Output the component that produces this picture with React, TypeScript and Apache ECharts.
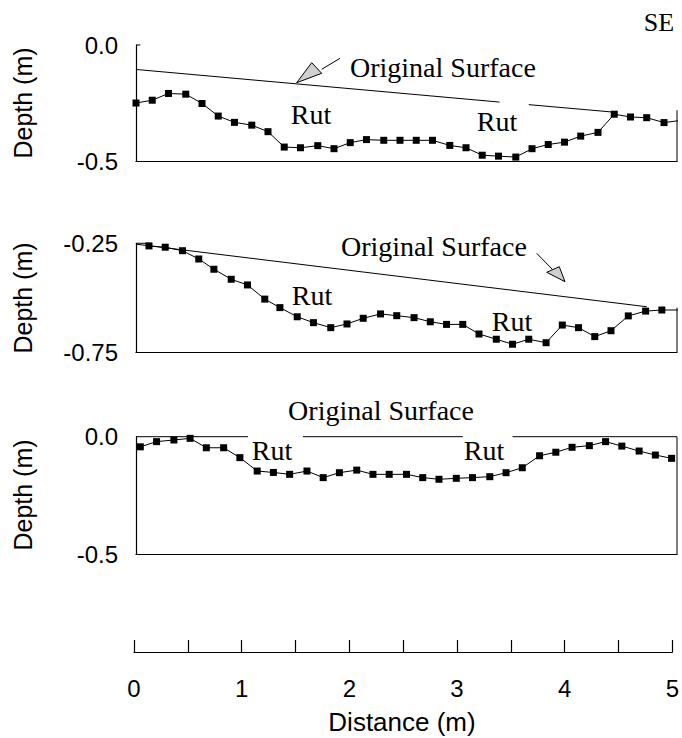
import React, { useEffect, useRef } from 'react';
import * as echarts from 'echarts';

// ---- Panel 1 (top) ----
const topDistance = [0, 0.15, 0.30, 0.46, 0.61, 0.76, 0.91, 1.07, 1.22, 1.37, 1.52, 1.68, 1.83, 1.98, 2.13, 2.29, 2.44, 2.59, 2.74, 2.90, 3.05, 3.20, 3.35, 3.51, 3.66, 3.81, 3.96, 4.11, 4.27, 4.42, 4.57, 4.72, 4.88, 5.03];
const topDepth = [-0.249, -0.237, -0.208, -0.211, -0.251, -0.305, -0.332, -0.344, -0.372, -0.438, -0.441, -0.432, -0.445, -0.419, -0.406, -0.409, -0.409, -0.409, -0.409, -0.431, -0.441, -0.473, -0.477, -0.481, -0.445, -0.427, -0.417, -0.391, -0.375, -0.297, -0.309, -0.312, -0.333, -0.324];
const topSurfaceA = [[0, -0.105], [3.36, -0.245]];
const topSurfaceB = [[3.63, -0.256], [4.41, -0.288]];

// ---- Panel 2 (middle) ----
const midDistance = [0.12, 0.27, 0.43, 0.58, 0.72, 0.88, 1.03, 1.19, 1.33, 1.49, 1.64, 1.80, 1.95, 2.10, 2.26, 2.41, 2.57, 2.72, 2.87, 3.02, 3.17, 3.33, 3.48, 3.63, 3.79, 3.94, 4.09, 4.24, 4.39, 4.55, 4.71, 4.86, 5.03];
const midDepth = [-0.262, -0.268, -0.284, -0.322, -0.369, -0.415, -0.441, -0.506, -0.545, -0.587, -0.614, -0.637, -0.620, -0.594, -0.574, -0.582, -0.591, -0.610, -0.622, -0.622, -0.666, -0.690, -0.713, -0.690, -0.706, -0.625, -0.637, -0.678, -0.651, -0.583, -0.561, -0.556, -0.556];
const midSurface = [[0, -0.254], [4.72, -0.541]];

// ---- Panel 3 (bottom) ----
const botDistance = [0.04, 0.19, 0.35, 0.50, 0.65, 0.81, 0.96, 1.12, 1.27, 1.42, 1.58, 1.73, 1.88, 2.04, 2.19, 2.34, 2.50, 2.65, 2.80, 2.96, 3.11, 3.27, 3.42, 3.57, 3.73, 3.88, 4.03, 4.19, 4.34, 4.49, 4.65, 4.80, 4.95];
const botDepth = [-0.043, -0.021, -0.014, -0.007, -0.047, -0.047, -0.089, -0.146, -0.152, -0.160, -0.146, -0.174, -0.153, -0.142, -0.160, -0.160, -0.160, -0.174, -0.181, -0.177, -0.174, -0.170, -0.153, -0.132, -0.081, -0.066, -0.045, -0.038, -0.021, -0.040, -0.061, -0.078, -0.092];
const botSurfaceSegments = [
  [[0, 0], [1.035, 0]],
  [[1.543, 0], [3.02, 0]],
  [[3.48, 0], [5, 0]],
];

// axis ranges / ticks
const xRange = [0, 5];
const xTickStep = 0.5;
const topY = { min: -0.5, max: 0, interval: 0.5 };
const midY = { min: -0.75, max: -0.25, interval: 0.25 };
const botY = { min: -0.5, max: 0, interval: 0.5 };

// frame fragments (data coords)
const topFrame = [
  [[0, 0], [0.04, 0]],
  [[5, -0.28], [5, -0.5]],
];
const midFrame = [
  [[0, -0.25], [0.14, -0.25]],
  [[5, -0.545], [5, -0.75]],
];
const botFrame = [
  [[5, 0], [5, -0.5]],
];

const SANS = '"Liberation Sans", Arial, sans-serif';
const SERIF = '"Liberation Serif", "Times New Roman", serif';

export default function App() {
  const ref = useRef<HTMLDivElement>(null);

  useEffect(() => {
    const chart = echarts.init(ref.current!, null, { renderer: 'svg' });

    const grids = [
      { left: 136, top: 45, width: 541, height: 116.5 },
      { left: 136, top: 243.3, width: 541, height: 109 },
      { left: 136, top: 436.7, width: 541, height: 117.6 },
      { left: 134, top: 640, width: 543, height: 12 },
    ];

    const axisLine = { show: true, onZero: false, lineStyle: { color: '#000', width: 1.2 } };
    const panelX = (i: number) => ({
      type: 'value', gridIndex: i, min: xRange[0], max: xRange[1],
      axisLine, axisTick: { show: false }, axisLabel: { show: false }, splitLine: { show: false },
    });
    const panelY = (i: number, r: any, digits: number, hide?: number) => ({
      type: 'value', gridIndex: i, min: r.min, max: r.max, interval: r.interval,
      axisLine, axisTick: { show: false }, splitLine: { show: false },
      axisLabel: {
        color: '#000', fontFamily: SANS, fontSize: 24, margin: 18,
        formatter: (v: number) => (hide !== undefined && Math.abs(v - hide) < 1e-9 ? '' : v.toFixed(digits)),
      },
    });

    const zip = (xs: number[], ys: number[]) => xs.map((x, k) => [x, ys[k]]);
    const dataSeries = (i: number, xs: number[], ys: number[]) => ({
      type: 'line', xAxisIndex: i, yAxisIndex: i, data: zip(xs, ys),
      symbol: 'rect', symbolSize: 7, showSymbol: true, clip: true,
      itemStyle: { color: '#000' }, lineStyle: { color: '#000', width: 1 },
    });
    const plainLine = (i: number, pts: number[][]) => ({
      type: 'line', xAxisIndex: i, yAxisIndex: i, data: pts,
      symbol: 'none', showSymbol: false, clip: false, silent: true,
      lineStyle: { color: '#000', width: 1 },
    });

    const series: any[] = [
      dataSeries(0, topDistance, topDepth),
      plainLine(0, topSurfaceA),
      plainLine(0, topSurfaceB),
      ...topFrame.map((s) => plainLine(0, s)),
      dataSeries(1, midDistance, midDepth),
      plainLine(1, midSurface),
      ...midFrame.map((s) => plainLine(1, s)),
      dataSeries(2, botDistance, botDepth),
      ...botSurfaceSegments.map((s) => plainLine(2, s)),
      ...botFrame.map((s) => plainLine(2, s)),
    ];

    const txt = (text: string, x: number, y: number, font: string, align = 'center', rotation = 0) => ({
      type: 'text', x, y, rotation, silent: true,
      style: { text, font, fill: '#000', align, verticalAlign: 'middle' },
    });
    const serif = `28px ${SERIF}`;
    const sansName = `25px ${SANS}`;

    const graphic: any[] = [
      txt('SE', 659, 22, `26px ${SERIF}`),
      txt('Original Surface', 350, 67, serif, 'left'),
      txt('Rut', 311, 114, serif),
      txt('Rut', 497, 121, serif),
      txt('Original Surface', 341, 246, serif, 'left'),
      txt('Rut', 312, 295, serif),
      txt('Rut', 512, 321, serif),
      txt('Original Surface', 381, 410, serif),
      txt('Rut', 272, 450, serif),
      txt('Rut', 484, 450, serif),
      txt('Depth (m)', 23, 103, sansName, 'center', Math.PI / 2),
      txt('Depth (m)', 23, 298, sansName, 'center', Math.PI / 2),
      txt('Depth (m)', 23, 495, sansName, 'center', Math.PI / 2),
      txt('Distance (m)', 402, 722, `26px ${SANS}`),
      {
        type: 'polygon', silent: true,
        shape: { points: [[296.7, 82.7], [311.7, 62.7], [321.7, 73.3]] },
        style: { fill: '#cfcfcf', stroke: '#000', lineWidth: 1 },
      },
      { type: 'line', silent: true, shape: { x1: 321.7, y1: 69.3, x2: 340, y2: 58.3 }, style: { stroke: '#000', lineWidth: 1 } },
      {
        type: 'polygon', silent: true,
        shape: { points: [[565, 281.7], [546.7, 272.3], [559.3, 266.7]] },
        style: { fill: '#cfcfcf', stroke: '#000', lineWidth: 1 },
      },
      { type: 'line', silent: true, shape: { x1: 536.7, y1: 253.3, x2: 552.5, y2: 269.5 }, style: { stroke: '#000', lineWidth: 1 } },
    ];

    const option: any = {
      animation: false,
      backgroundColor: '#fff',
      grid: grids,
      xAxis: [
        panelX(0), panelX(1), panelX(2),
        {
          type: 'value', gridIndex: 3, min: xRange[0], max: xRange[1], interval: xTickStep,
          axisLine, splitLine: { show: false },
          axisTick: { show: true, inside: true, length: 12, lineStyle: { color: '#000', width: 1.2 } },
          axisLabel: {
            color: '#000', fontFamily: SANS, fontSize: 24, margin: 24,
            formatter: (v: number) => (Math.abs(v - Math.round(v)) < 1e-6 ? String(Math.round(v)) : ''),
          },
        },
      ],
      yAxis: [
        panelY(0, topY, 1),
        panelY(1, midY, 2, -0.5),
        panelY(2, botY, 1),
        { type: 'value', gridIndex: 3, min: 0, max: 1, show: false },
      ],
      series,
      graphic,
    };

    chart.setOption(option);
    return () => chart.dispose();
  }, []);

  return (
    <div
      ref={ref}
      style={{ position: 'fixed', left: 0, top: 0, width: 682, height: 738, background: '#fff' }}
    />
  );
}
